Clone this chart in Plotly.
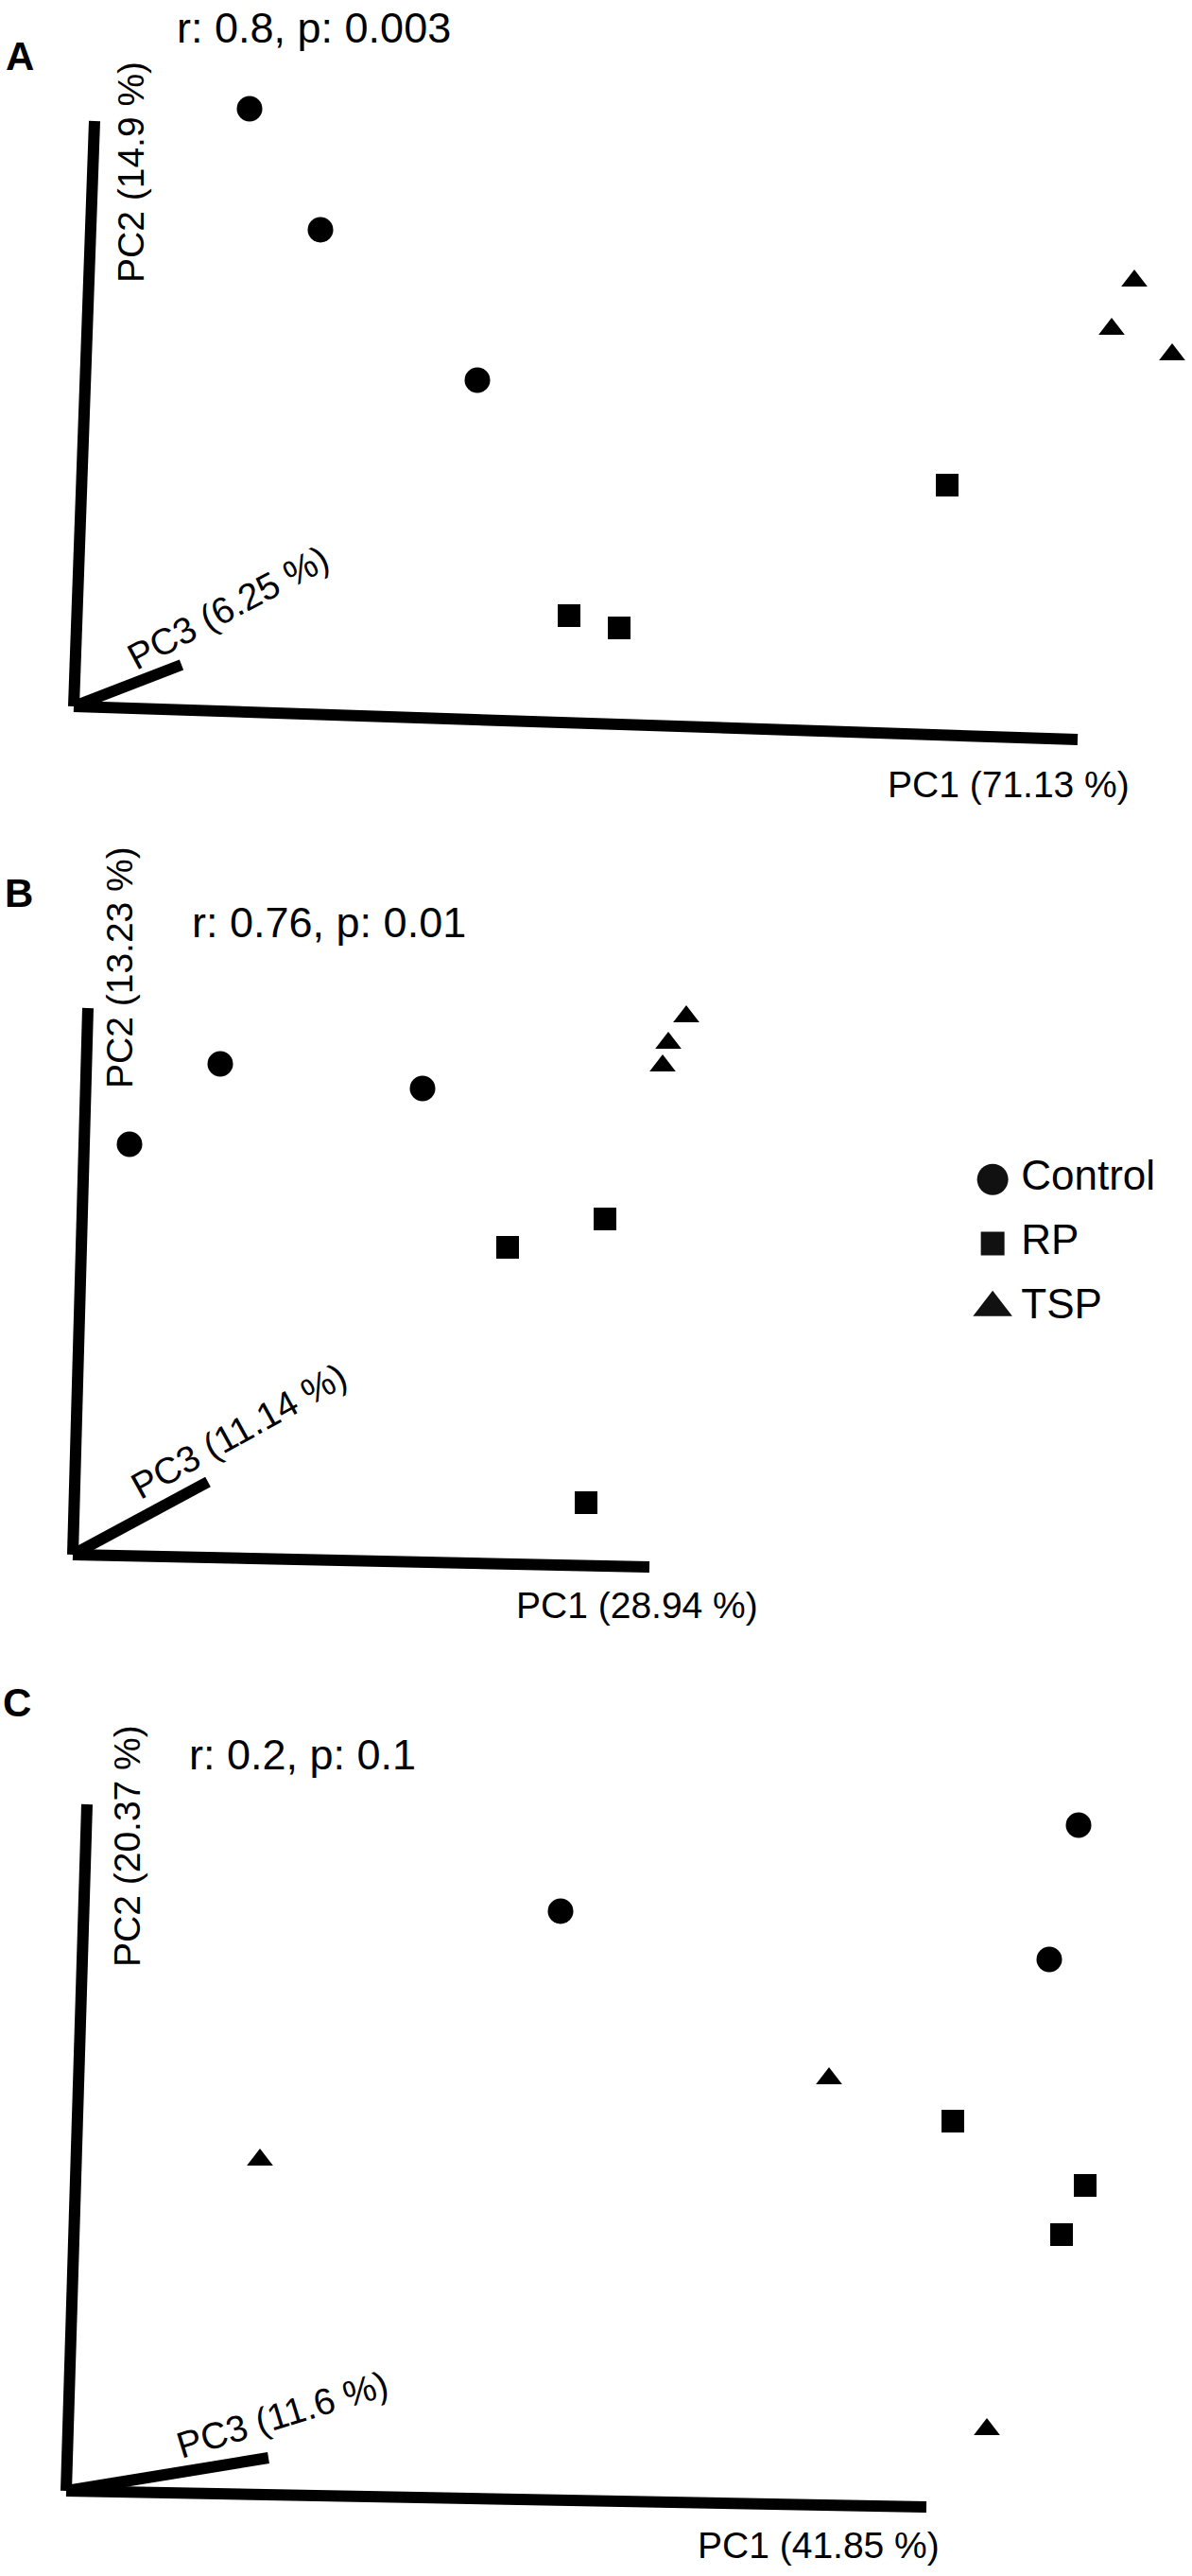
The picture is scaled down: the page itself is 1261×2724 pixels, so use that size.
import plotly.graph_objects as go

W, H = 1261, 2724
FONT = "Liberation Sans, Arial, sans-serif"

# ---------------- data (projected PCoA coordinates) -------------
groups = ["Control", "RP", "TSP"]

# Panel A
a_control_x = [18.6, 26.1, 42.7]
a_control_y = [63.2, 50.4, 34.5]
a_rp_x = [52.4, 57.7, 92.4]
a_rp_y = [9.6, 8.3, 23.4]
a_tsp_x = [112.2, 109.8, 116.2]
a_tsp_y = [45.0, 39.9, 37.2]
a_axis_end_x = [106.2, 2.2, 11.4]      # PC1, PC2, PC3 axis tips
a_axis_end_y = [-3.5, 61.9, 4.4]
a_axis_labels = ["PC1 (71.13 %)", "PC2 (14.9 %)", "PC3 (6.25 %)"]
a_stats = "r: 0.8, p: 0.003"

# Panel B
b_control_x = [15.6, 37.0, 6.0]
b_control_y = [51.9, 49.3, 43.4]
b_rp_x = [56.3, 46.0, 54.3]
b_rp_y = [35.5, 32.5, 5.5]
b_tsp_x = [64.9, 63.0, 62.4]
b_tsp_y = [56.9, 54.1, 51.7]
b_axis_end_x = [61.0, 1.6, 14.3]
b_axis_end_y = [-1.3, 57.8, 7.7]
b_axis_labels = ["PC1 (28.94 %)", "PC2 (13.23 %)", "PC3 (11.14 %)"]
b_stats = "r: 0.76, p: 0.01"

# Panel C
c_control_x = [52.3, 107.1, 104.0]
c_control_y = [61.3, 70.4, 56.2]
c_rp_x = [93.8, 107.8, 105.3]
c_rp_y = [39.1, 32.3, 27.1]
c_tsp_x = [20.5, 80.7, 97.4]
c_tsp_y = [35.0, 43.6, 6.5]
c_axis_end_x = [91.0, 2.2, 21.4]
c_axis_end_y = [-1.7, 72.6, 3.5]
c_axis_labels = ["PC1 (41.85 %)", "PC2 (20.37 %)", "PC3 (11.6 %)"]
c_stats = "r: 0.2, p: 0.1"

panel_letters = ["A", "B", "C"]

# ---------------- styles / layout -------------
group_symbols = ["circle", "square", "triangle-up"]
group_sizes = [27, 24, 24]
legend_sizes = [33, 25, 36]

panels = [
    dict(letter=panel_letters[0],
         pts=[(a_control_x, a_control_y), (a_rp_x, a_rp_y), (a_tsp_x, a_tsp_y)],
         ax=(a_axis_end_x, a_axis_end_y), labels=a_axis_labels, stats=a_stats,
         xr=[-7.8, 118.3], yr=[-13.3, 74.7], ydom=[1 - 880 / H, 1.0],
         pc1_pos=(98.9, -8.2), pc2_pos=(6.0, 56.5), pc3_pos=(16.3, 10.5), pc3_ang=-28,
         stats_pos=(10.7, 71.8), letter_pos=(21, 60)),
    dict(letter=panel_letters[1],
         pts=[(b_control_x, b_control_y), (b_rp_x, b_rp_y), (b_tsp_x, b_tsp_y)],
         ax=(b_axis_end_x, b_axis_end_y), labels=b_axis_labels, stats=b_stats,
         xr=[-7.7, 118.4], yr=[-11.6, 76.4], ydom=[1 - 1760 / H, 1 - 880 / H],
         pc1_pos=(59.7, -5.3), pc2_pos=(4.9, 62.1), pc3_pos=(17.5, 13.1), pc3_ang=-29,
         stats_pos=(12.4, 66.9), letter_pos=(20, 944)),
    dict(letter=panel_letters[2],
         pts=[(c_control_x, c_control_y), (c_rp_x, c_rp_y), (c_tsp_x, c_tsp_y)],
         ax=(c_axis_end_x, c_axis_end_y), labels=c_axis_labels, stats=c_stats,
         xr=[-7.0, 119.1], yr=[-9.0, 87.4], ydom=[0.0, 1 - 1760 / H],
         pc1_pos=(79.6, -5.7), pc2_pos=(6.4, 68.2), pc3_pos=(22.8, 8.1), pc3_ang=-17,
         stats_pos=(12.8, 77.9), letter_pos=(18, 1800)),
]

fig = go.Figure()
annotations = []
layout = dict(
    width=W, height=H, margin=dict(l=0, r=0, t=0, b=0),
    paper_bgcolor="white", plot_bgcolor="white", showlegend=False,
    font=dict(family=FONT, color="black"),
)

for i, p in enumerate(panels):
    sx = "" if i == 0 else str(i + 1)
    xref, yref = "x" + sx, "y" + sx
    # PC axes drawn as thick lines from the origin
    ex, ey = p["ax"]
    for k in range(3):
        fig.add_trace(go.Scatter(
            x=[0, ex[k]], y=[0, ey[k]], mode="lines",
            line=dict(color="black", width=12), xaxis=xref, yaxis=yref,
            hoverinfo="skip", cliponaxis=False))
    # sample points
    for g, (xs, ys) in enumerate(p["pts"]):
        fig.add_trace(go.Scatter(
            x=xs, y=ys, mode="markers", name=groups[g],
            marker=dict(symbol=group_symbols[g], size=group_sizes[g], color="black",
                        line=dict(width=0)),
            xaxis=xref, yaxis=yref, cliponaxis=False))
    layout["xaxis" + sx] = dict(domain=[0, 1], range=p["xr"], visible=False,
                                anchor=yref, fixedrange=True)
    layout["yaxis" + sx] = dict(domain=p["ydom"], range=p["yr"], visible=False,
                                anchor=xref, fixedrange=True)
    lab = p["labels"]
    annotations += [
        dict(x=p["pc1_pos"][0], y=p["pc1_pos"][1], xref=xref, yref=yref, text=lab[0],
             showarrow=False, xanchor="center", yanchor="middle", font=dict(size=39)),
        dict(x=p["pc2_pos"][0], y=p["pc2_pos"][1], xref=xref, yref=yref, text=lab[1],
             showarrow=False, xanchor="center", yanchor="middle", textangle=-90,
             font=dict(size=39)),
        dict(x=p["pc3_pos"][0], y=p["pc3_pos"][1], xref=xref, yref=yref, text=lab[2],
             showarrow=False, xanchor="center", yanchor="middle", textangle=p["pc3_ang"],
             font=dict(size=39)),
        dict(x=p["stats_pos"][0], y=p["stats_pos"][1], xref=xref, yref=yref, text=p["stats"],
             showarrow=False, xanchor="left", yanchor="middle", font=dict(size=45)),
        dict(x=p["letter_pos"][0] / W, y=1 - p["letter_pos"][1] / H, xref="paper", yref="paper",
             text="<b>" + p["letter"] + "</b>", showarrow=False, xanchor="center",
             yanchor="middle", font=dict(size=42)),
    ]

# custom legend (beside panel B)
leg_rows = list(range(len(groups)))
for g in leg_rows:
    fig.add_trace(go.Scatter(
        x=[0], y=[g], mode="markers",
        marker=dict(symbol=group_symbols[g], size=legend_sizes[g], color="#111111"),
        xaxis="x4", yaxis="y4", hoverinfo="skip", cliponaxis=False))
fig.add_trace(go.Scatter(
    x=[1.0] * len(groups), y=leg_rows, mode="text", text=groups,
    textposition="middle right", textfont=dict(size=44, color="black", family=FONT),
    xaxis="x4", yaxis="y4", hoverinfo="skip", cliponaxis=False))
layout["xaxis4"] = dict(domain=[1020 / W, 1.0], range=[-1.0, 7.0], visible=False,
                        anchor="y4", fixedrange=True)
layout["yaxis4"] = dict(domain=[1 - 1420 / H, 1 - 1210 / H], range=[2.55, -0.55],
                        visible=False, anchor="x4", fixedrange=True)

layout["annotations"] = annotations
fig.update_layout(**layout)

fig.write_html("out.html", config={"displayModeBar": False},
               post_script="document.body.style.margin='0px';")
